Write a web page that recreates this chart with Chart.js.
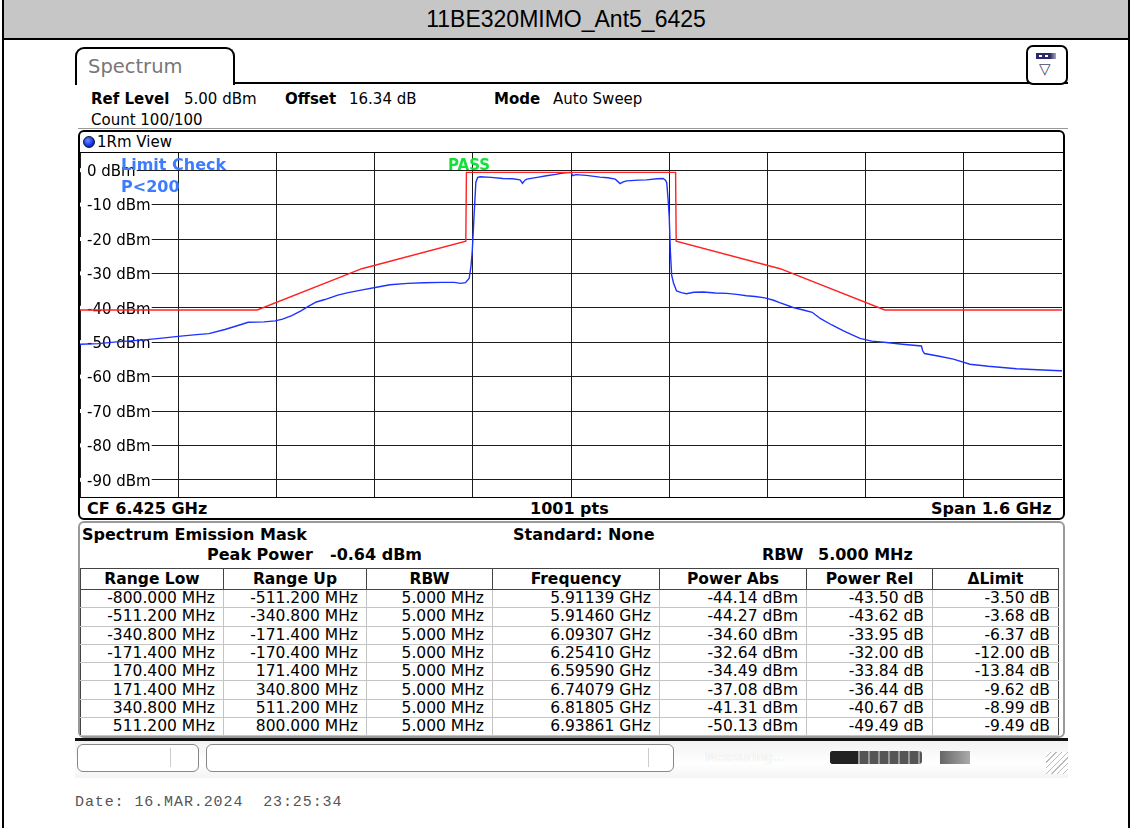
<!DOCTYPE html>
<html>
<head>
<meta charset="utf-8">
<script src="https://cdn.jsdelivr.net/npm/chart.js@4.4.0/dist/chart.umd.min.js"></script>
<style>
  body { margin: 0; width: 1132px; height: 828px; position: relative; background: #fff; overflow: hidden;
         font-family: "DejaVu Sans", sans-serif; color: #000; }
  .a { position: absolute; white-space: nowrap; }
  .b { font-weight: bold; }
  #frame { left: 2px; top: 0; width: 1124px; height: 840px; border-left: 2px solid #000; border-right: 2px solid #000; }
  #title { left: 4px; top: 0; width: 1124px; height: 38px; background: #c6c6c6; border-bottom: 2px solid #000;
           font-family: "Liberation Sans", Arial, sans-serif; font-size: 23px; line-height: 39px; text-align: center; }
  #tab { left: 75px; top: 47px; width: 156px; height: 36px; border: 2px solid #000; border-bottom: none;
         border-radius: 9px 9px 0 0; background: #fff; }
  #tab span { position: absolute; left: 11px; top: 6px; font-size: 19.5px; color: #777; }
  #tabline { left: 233px; top: 82px; width: 835px; height: 2px; background: #000; }
  #icon { left: 1026px; top: 45px; width: 38px; height: 36px; border: 2px solid #000; border-radius: 7px; background: #fff; }
  .hdr { font-size: 15px; line-height: 18px; }
  #sep { left: 78px; top: 128px; width: 990px; height: 1px; background: #999; }
  #plotpanel { left: 78px; top: 130px; width: 983px; height: 386px; border: 2px solid #000; border-radius: 6px; }
  #viewline { left: 80px; top: 152px; width: 983px; height: 1px; background: #000; }
  #bottomline { left: 80px; top: 497px; width: 983px; height: 1px; background: #000; }
  #plotwrap { left: 80px; top: 153px; width: 982px; height: 344px; }
  #tblpanel { left: 78px; top: 521px; width: 983px; height: 213px; border: 2px solid #9a9a9a; border-radius: 6px; }
  table { position: absolute; left: 80px; top: 568px; width: 978px; border-collapse: collapse; table-layout: fixed;
          font-size: 15.5px; }
  th { height: 20px; line-height: 18px; padding: 0; font-weight: bold; border-top: 1px solid #444;
       border-bottom: 1px solid #444; border-right: 1px solid #444; }
  td { height: 17.3px; line-height: 17px; padding: 0 8px 0 0; text-align: right; border: 1px solid #c4c4c4; }
  tr td:first-child, tr th:first-child { border-left: 1px solid #444; }
  tr td:last-child { border-right: 1px solid #444; }
  #status { left: 75px; top: 738px; width: 993px; height: 37px; border-top: 3px solid #111;
            background: linear-gradient(#f2f2f2, #ffffff 60%, #f4f4f4); }
  .sbox { top: 744px; height: 26px; border: 1px solid #888; border-radius: 6px; background: #fff; }
</style>
</head>
<body>
<div class="a" id="frame"></div>
<div class="a" id="title">11BE320MIMO_Ant5_6425</div>

<div class="a" id="tab"><span>Spectrum</span></div>
<div class="a" id="tabline"></div>
<div class="a" id="icon">
  <div class="a" style="left:8px;top:6px;width:20px;height:6px;background:linear-gradient(90deg,#2a2a6a,#2a2a6a 70%,#aab);"></div>
  <div class="a" style="left:11px;top:8px;width:3px;height:2px;background:#fff"></div>
  <div class="a" style="left:17px;top:8px;width:3px;height:2px;background:#fff"></div>
  <div class="a" style="left:11px;top:13px;font-size:15px;color:#446;">&#9661;</div>
</div>

<div class="a hdr b" style="left:91px;top:90px;">Ref Level</div>
<div class="a hdr" style="left:184px;top:90px;">5.00 dBm</div>
<div class="a hdr b" style="left:285px;top:90px;">Offset</div>
<div class="a hdr" style="left:349px;top:90px;">16.34 dB</div>
<div class="a hdr b" style="left:494px;top:90px;">Mode</div>
<div class="a hdr" style="left:553px;top:90px;">Auto Sweep</div>
<div class="a hdr" style="left:91px;top:111px;">Count 100/100</div>
<div class="a" id="sep"></div>

<div class="a" id="plotpanel"></div>
<div class="a" style="left:83px;top:136px;width:10px;height:10px;border-radius:50%;border:1px solid #113;background:radial-gradient(circle at 40% 35%,#6f8cff,#1030e0 60%,#0a1a90);"></div>
<div class="a hdr" style="left:97px;top:133px;">1Rm View</div>
<div class="a" id="viewline"></div>
<div class="a" id="plotwrap"><canvas id="spec" width="982" height="344"></canvas></div>
<div class="a" id="bottomline"></div>
<div class="a hdr b" style="left:87px;top:500px;font-size:16px;">CF 6.425 GHz</div>
<div class="a hdr b" style="left:530px;top:500px;font-size:16px;">1001 pts</div>
<div class="a hdr b" style="left:931px;top:500px;font-size:16px;">Span 1.6 GHz</div>

<div class="a b" style="left:121px;top:155px;font-size:16px;color:#3d7cff;">Limit Check</div>
<div class="a b" style="left:121px;top:177px;font-size:16px;color:#3d7cff;">P&lt;200</div>
<div class="a b" style="left:448px;top:156px;font-size:15px;color:#14e03c;">PASS</div>

<div class="a" id="tblpanel"></div>
<div class="a hdr b" style="left:82px;top:526px;font-size:16px;">Spectrum Emission Mask</div>
<div class="a hdr b" style="left:513px;top:526px;font-size:16px;">Standard: None</div>
<div class="a hdr b" style="left:207px;top:546px;font-size:16px;">Peak Power</div>
<div class="a hdr b" style="left:330px;top:546px;font-size:16px;">-0.64 dBm</div>
<div class="a hdr b" style="left:762px;top:546px;font-size:16px;">RBW</div>
<div class="a hdr b" style="left:818px;top:546px;font-size:16px;">5.000 MHz</div>
<table id="tbl"></table>

<div class="a" id="status"></div>
<div class="a sbox" style="left:77px;width:120px;"></div>
<div class="a" style="left:170px;top:748px;width:1px;height:19px;background:#ccc;"></div>
<div class="a sbox" style="left:206px;width:466px;"></div>
<div class="a" style="left:648px;top:748px;width:1px;height:19px;background:#ccc;"></div>
<div class="a" style="left:705px;top:749px;font-size:13px;color:#fff;text-shadow:0 0 1px #ccc;">Measuring...</div>
<div class="a" style="left:830px;top:751px;width:92px;height:13px;border-radius:3px;background:repeating-linear-gradient(90deg,#555 0 8px,#999 8px 10px);"></div>
<div class="a" style="left:830px;top:751px;width:28px;height:13px;border-radius:3px 0 0 3px;background:#222;"></div>
<div class="a" style="left:940px;top:751px;width:30px;height:13px;background:linear-gradient(90deg,#666,#aaa);"></div>
<div class="a" style="left:1046px;top:752px;width:22px;height:22px;background:repeating-linear-gradient(135deg,#fff 0 3px,#bbb 3px 4px);"></div>

<div class="a" style="left:75px;top:794px;font-family:'Liberation Mono',monospace;font-size:15px;letter-spacing:0.9px;color:#555;">Date: 16.MAR.2024&nbsp;&nbsp;23:25:34</div>

<script>
// trace: frequency offset from CF (MHz) and level (dBm)
const freqMHz = [-800, -770, -740, -700, -670, -640, -610, -590, -564, -540, -526, -500, -482, -470, -455, -440,
  -428, -415, -401, -380, -363, -340, -319, -295, -266, -240, -210, -190, -180, -172, -166, -163, -161, -159,
  -157, -155, -152, -148, -130, -111, -95, -83, -79, -75, -72, -55, -40, -25, -13, -5, 0, 3, 8, 25, 47, 60,
  72, 80, 85, 91, 110, 123, 140, 150, 154, 156, 158, 160, 162, 164, 167, 172, 180, 188, 200, 216, 235, 254,
  270, 286, 300, 316, 330, 340, 362, 380, 393, 406, 425, 444, 460, 471, 490, 514, 540, 571, 573, 576, 600,
  623, 650, 680, 726, 760, 797, 800];
const traceDbm = [-50.6, -50.4, -49.9, -49.4, -48.9, -48.3, -47.8, -47.5, -46.3, -45.0, -44.2, -44.1, -43.8, -43.3, -42.3, -40.9,
  -39.6, -38.3, -37.6, -36.3, -35.6, -34.8, -34.1, -33.3, -32.9, -32.7, -32.6, -32.6, -32.9, -32.7, -31.5, -28.0, -23.9, -17.0,
  -10.0, -3.5, -2.1, -1.9, -2.1, -2.4, -2.5, -2.8, -3.8, -2.9, -2.6, -2.1, -1.6, -1.2, -0.8, -0.7, -0.64, -1.6, -1.3, -1.5, -2.0, -2.2,
  -2.6, -3.9, -3.4, -3.1, -2.9, -2.8, -2.5, -2.4, -2.9, -3.6, -8.0, -13.3, -23.9, -30.5, -32.8, -35.1, -35.6, -35.9, -35.5, -35.4, -35.7, -35.8,
  -36.1, -36.5, -36.7, -37.1, -37.8, -38.5, -39.9, -40.7, -41.3, -43.1, -45.0, -46.7, -48.0, -48.9, -49.7, -50.1, -50.6, -51.1, -52.5, -53.3, -54.1,
  -54.9, -56.4, -57.0, -57.7, -58.0, -58.3, -58.3];

// emission mask limit line (peak -0.64 dBm as 0 dBr)
const limitMHz = [-800, -511.2, -340.8, -171.4, -170.4, 170.4, 171.4, 340.8, 511.2, 800];
const limitDbm = [-40.64, -40.64, -28.64, -20.64, -0.64, -0.64, -20.64, -28.64, -40.64, -40.64];

const yTicks = [0, -10, -20, -30, -40, -50, -60, -70, -80, -90];

// result table
const tableHeaders = ['Range Low', 'Range Up', 'RBW', 'Frequency', 'Power Abs', 'Power Rel', '\u0394Limit'];
const rangeLow = ['-800.000 MHz', '-511.200 MHz', '-340.800 MHz', '-171.400 MHz', '170.400 MHz', '171.400 MHz', '340.800 MHz', '511.200 MHz'];
const rangeUp = ['-511.200 MHz', '-340.800 MHz', '-171.400 MHz', '-170.400 MHz', '171.400 MHz', '340.800 MHz', '511.200 MHz', '800.000 MHz'];
const rbw = ['5.000 MHz', '5.000 MHz', '5.000 MHz', '5.000 MHz', '5.000 MHz', '5.000 MHz', '5.000 MHz', '5.000 MHz'];
const frequency = ['5.91139 GHz', '5.91460 GHz', '6.09307 GHz', '6.25410 GHz', '6.59590 GHz', '6.74079 GHz', '6.81805 GHz', '6.93861 GHz'];
const powerAbs = ['-44.14 dBm', '-44.27 dBm', '-34.60 dBm', '-32.64 dBm', '-34.49 dBm', '-37.08 dBm', '-41.31 dBm', '-50.13 dBm'];
const powerRel = ['-43.50 dB', '-43.62 dB', '-33.95 dB', '-32.00 dB', '-33.84 dB', '-36.44 dB', '-40.67 dB', '-49.49 dB'];
const deltaLimit = ['-3.50 dB', '-3.68 dB', '-6.37 dB', '-12.00 dB', '-13.84 dB', '-9.62 dB', '-8.99 dB', '-9.49 dB'];

const colWidths = [143, 143, 126, 167, 147, 126, 126];
const tbl = document.getElementById('tbl');
let html = '<colgroup>' + colWidths.map(w => '<col style="width:' + w + 'px">').join('') + '</colgroup>';
html += '<tr>' + tableHeaders.map(h => '<th>' + h + '</th>').join('') + '</tr>';
for (let i = 0; i < rangeLow.length; i++) {
  const row = [rangeLow[i], rangeUp[i], rbw[i], frequency[i], powerAbs[i], powerRel[i], deltaLimit[i]];
  html += '<tr>' + row.map(c => '<td>' + c + '</td>').join('') + '</tr>';
}
tbl.innerHTML = html;

// level labels sit inside the grid, over a white patch, under the traces
const levelLabels = {
  id: 'levelLabels',
  beforeDatasetsDraw(chart) {
    const { ctx, scales: { y } } = chart;
    ctx.save();
    ctx.font = '15px "DejaVu Sans"';
    ctx.textBaseline = 'middle';
    yTicks.forEach(v => {
      const py = y.getPixelForValue(v);
      const txt = v + ' dBm';
      const w = ctx.measureText(txt).width;
      ctx.fillStyle = '#fff';
      ctx.fillRect(0, py - 2, 7 + w + 1, 4);
      ctx.fillStyle = '#000';
      ctx.fillText(txt, 7, py + 2);
    });
    ctx.restore();
  }
};

new Chart(document.getElementById('spec'), {
  type: 'line',
  data: {
    datasets: [
      {
        label: 'Limit',
        data: limitMHz.map((f, i) => ({ x: f, y: limitDbm[i] })),
        borderColor: 'rgb(255, 35, 35)',
        borderWidth: 1.4,
        pointRadius: 0,
        tension: 0
      },
      {
        label: '1Rm',
        data: freqMHz.map((f, i) => ({ x: f, y: traceDbm[i] })),
        borderColor: 'rgb(30, 50, 255)',
        borderWidth: 1.4,
        pointRadius: 0,
        tension: 0
      }
    ]
  },
  options: {
    responsive: false,
    animation: false,
    layout: { padding: 0 },
    plugins: { legend: { display: false }, tooltip: { enabled: false } },
    scales: {
      x: {
        type: 'linear', min: -800, max: 800,
        ticks: { display: false, stepSize: 160 },
        grid: { color: '#1c1c1c', drawTicks: false },
        border: { display: false }
      },
      y: {
        type: 'linear', min: -95, max: 5,
        afterBuildTicks: s => { s.ticks = yTicks.map(v => ({ value: v })); },
        ticks: { display: false },
        grid: { color: '#1c1c1c', drawTicks: false },
        border: { display: false }
      }
    }
  },
  plugins: [levelLabels]
});
</script>
</body>
</html>
